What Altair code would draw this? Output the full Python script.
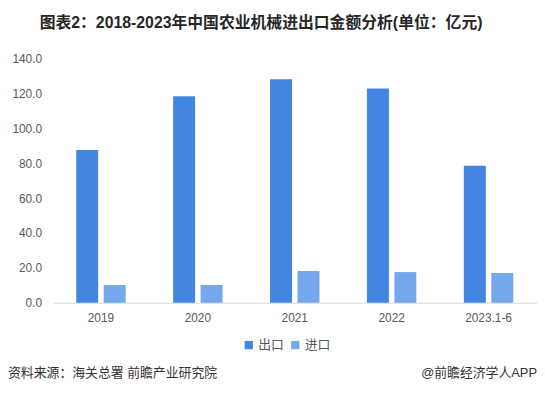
import altair as alt
import pandas as pd

years = ["2019", "2020", "2021", "2022", "2023.1-6"]
export_vals = [87.6, 118.4, 128.1, 122.9, 78.5]
import_vals = [10.2, 10.2, 18.2, 17.6, 17.1]
series = ["出口", "进口"]
colors = ["#4285E2", "#74A7EB"]

rows = []
for y, e, i in zip(years, export_vals, import_vals):
    rows.append({"year": y, "type": series[0], "value": e})
    rows.append({"year": y, "type": series[1], "value": i})
df = pd.DataFrame(rows)

FONT = "Liberation Sans, Noto Sans CJK SC"

bars = alt.Chart(df).mark_bar().encode(
    x=alt.X("year:N", sort=years, title=None,
            scale=alt.Scale(paddingInner=0.49, paddingOuter=0.245),
            axis=alt.Axis(labelAngle=0, ticks=False, domainColor="#D9D9D9",
                          labelColor="#595959", labelFontSize=12, labelPadding=10,
                          labelFont=FONT)),
    xOffset=alt.XOffset("type:N", sort=series,
                        scale=alt.Scale(paddingInner=0.2, paddingOuter=0)),
    y=alt.Y("value:Q", title=None,
            scale=alt.Scale(domain=[0, 140]),
            axis=alt.Axis(values=[0, 20, 40, 60, 80, 100, 120, 140], format=".1f",
                          grid=False, domain=False, ticks=False,
                          labelColor="#595959", labelFontSize=12, labelPadding=11,
                          labelFont=FONT)),
    color=alt.Color("type:N", sort=series,
                    scale=alt.Scale(domain=series, range=colors),
                    legend=alt.Legend(title=None, orient="none", direction="horizontal",
                                      legendX=192, legendY=283, symbolType="square",
                                      symbolSize=70, labelFontSize=13, labelOffset=3,
                                      labelColor="#595959", labelFont=FONT,
                                      columnPadding=4, symbolOpacity=1)),
)

src = alt.Chart(pd.DataFrame({"t": ["资料来源：海关总署 前瞻产业研究院"]})).mark_text(
    align="left", baseline="middle", fontSize=13, color="#333333", font=FONT
).encode(text="t:N", x=alt.value(-45), y=alt.value(318))

brand = alt.Chart(pd.DataFrame({"t": ["@前瞻经济学人APP"]})).mark_text(
    align="right", baseline="middle", fontSize=13, color="#333333", font=FONT
).encode(text="t:N", x=alt.value(490), y=alt.value(318))

chart = alt.layer(bars, src, brand).properties(
    width=490, height=247,
    title=alt.TitleParams("图表2：2018-2023年中国农业机械进出口金额分析(单位：亿元)",
                          anchor="start", frame="group", dx=-13, offset=22,
                          fontSize=16, fontWeight="bold", color="#262626", font=FONT),
    autosize=alt.AutoSizeParams(type="none"),
    padding={"left": 45, "top": 49, "right": 0, "bottom": 80},
).configure_view(stroke=None)

chart.save("out.html", embed_options={"renderer": "svg", "actions": False})
